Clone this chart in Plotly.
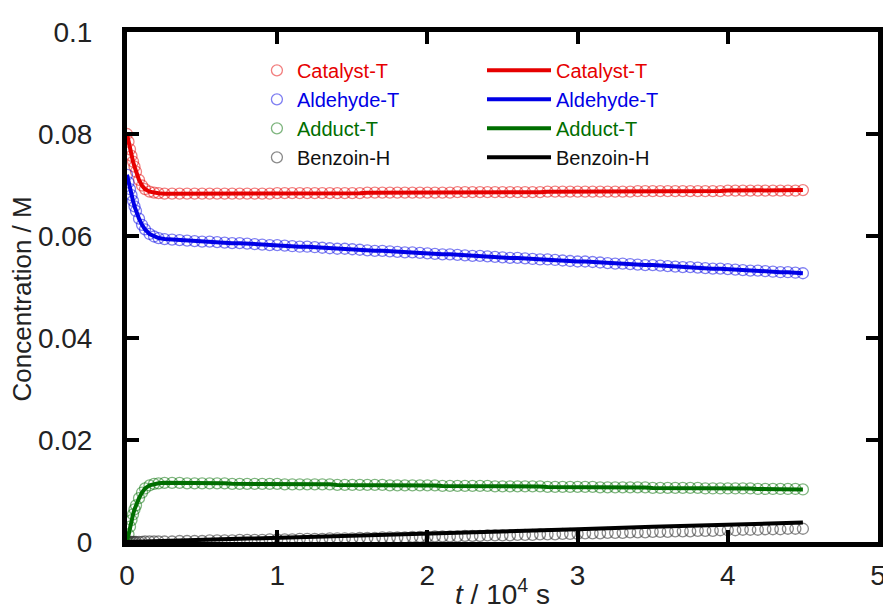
import plotly.graph_objects as go

# ---------------- data (t in 10^4 s, concentrations in M) ----------------
time_1e4s = [
    0.00, 0.01, 0.02, 0.03, 0.04, 0.05, 0.06, 0.08, 0.10, 0.12, 0.15, 0.18, 0.21, 0.25, 0.30, 0.35,
    0.40, 0.45, 0.50, 0.55, 0.60, 0.65, 0.70, 0.75, 0.80, 0.85, 0.90, 0.95,
    1.00, 1.05, 1.10, 1.15, 1.20, 1.25, 1.30, 1.35, 1.40, 1.45, 1.50, 1.55,
    1.60, 1.65, 1.70, 1.75, 1.80, 1.85, 1.90, 1.95, 2.00, 2.05, 2.10, 2.15,
    2.20, 2.25, 2.30, 2.35, 2.40, 2.45, 2.50, 2.55, 2.60, 2.65, 2.70, 2.75,
    2.80, 2.85, 2.90, 2.95, 3.00, 3.05, 3.10, 3.15, 3.20, 3.25, 3.30, 3.35,
    3.40, 3.45, 3.50, 3.55, 3.60, 3.65, 3.70, 3.75, 3.80, 3.85, 3.90, 3.95,
    4.00, 4.05, 4.10, 4.15, 4.20, 4.25, 4.30, 4.35, 4.40, 4.45, 4.50,
]

catalyst_T = [
    0.0800, 0.0785, 0.0770, 0.0757, 0.0746, 0.0736, 0.0726, 0.0710, 0.0699, 0.0692, 0.0687, 0.0685, 0.0684, 0.0683, 0.0683, 0.0683,
    0.0683, 0.0683, 0.0683, 0.0683, 0.0683, 0.0683, 0.0683, 0.0683, 0.0683, 0.0683, 0.0683, 0.0683,
    0.0684, 0.0684, 0.0684, 0.0684, 0.0684, 0.0684, 0.0684, 0.0684, 0.0684, 0.0684, 0.0684, 0.0684,
    0.0685, 0.0685, 0.0685, 0.0685, 0.0685, 0.0685, 0.0685, 0.0685, 0.0685, 0.0685, 0.0685, 0.0685,
    0.0686, 0.0686, 0.0686, 0.0686, 0.0686, 0.0686, 0.0686, 0.0686, 0.0686, 0.0686, 0.0686, 0.0686,
    0.0687, 0.0687, 0.0687, 0.0687, 0.0687, 0.0687, 0.0687, 0.0687, 0.0687, 0.0687, 0.0687, 0.0687,
    0.0688, 0.0688, 0.0688, 0.0688, 0.0688, 0.0688, 0.0688, 0.0688, 0.0688, 0.0688, 0.0688, 0.0688,
    0.0689, 0.0689, 0.0689, 0.0689, 0.0689, 0.0689, 0.0689, 0.0689, 0.0689, 0.0689, 0.0690,
]

aldehyde_T = [
    0.0720, 0.0705, 0.0692, 0.0680, 0.0669, 0.0658, 0.0649, 0.0634, 0.0622, 0.0613, 0.0604, 0.0599, 0.0596, 0.0594, 0.0593, 0.0592,
    0.0591, 0.0590, 0.0589, 0.0589, 0.0588, 0.0587, 0.0586, 0.0586, 0.0585, 0.0584, 0.0583, 0.0582,
    0.0582, 0.0581, 0.0580, 0.0579, 0.0579, 0.0578, 0.0577, 0.0576, 0.0575, 0.0575, 0.0574, 0.0573,
    0.0572, 0.0571, 0.0571, 0.0570, 0.0569, 0.0568, 0.0568, 0.0567, 0.0566, 0.0565, 0.0564, 0.0564,
    0.0563, 0.0562, 0.0561, 0.0561, 0.0560, 0.0559, 0.0558, 0.0557, 0.0557, 0.0556, 0.0555, 0.0554,
    0.0554, 0.0553, 0.0552, 0.0551, 0.0550, 0.0550, 0.0549, 0.0548, 0.0547, 0.0546, 0.0546, 0.0545,
    0.0544, 0.0543, 0.0543, 0.0542, 0.0541, 0.0540, 0.0539, 0.0539, 0.0538, 0.0537, 0.0536, 0.0536,
    0.0535, 0.0534, 0.0533, 0.0532, 0.0532, 0.0531, 0.0530, 0.0529, 0.0529, 0.0528, 0.0527,
]

adduct_T = [
    0.0000, 0.0015, 0.0030, 0.0043, 0.0054, 0.0064, 0.0072, 0.0086, 0.0097, 0.0105, 0.0111, 0.0114, 0.0115, 0.0116, 0.0116, 0.0116,
    0.0115, 0.0115, 0.0115, 0.0115, 0.0115, 0.0115, 0.0114, 0.0114, 0.0114, 0.0114, 0.0114, 0.0114,
    0.0114, 0.0113, 0.0113, 0.0113, 0.0113, 0.0113, 0.0113, 0.0113, 0.0112, 0.0112, 0.0112, 0.0112,
    0.0112, 0.0112, 0.0112, 0.0111, 0.0111, 0.0111, 0.0111, 0.0111, 0.0111, 0.0111, 0.0110, 0.0110,
    0.0110, 0.0110, 0.0110, 0.0110, 0.0110, 0.0109, 0.0109, 0.0109, 0.0109, 0.0109, 0.0109, 0.0109,
    0.0108, 0.0108, 0.0108, 0.0108, 0.0108, 0.0108, 0.0108, 0.0107, 0.0107, 0.0107, 0.0107, 0.0107,
    0.0107, 0.0107, 0.0106, 0.0106, 0.0106, 0.0106, 0.0106, 0.0106, 0.0106, 0.0105, 0.0105, 0.0105,
    0.0105, 0.0105, 0.0105, 0.0105, 0.0104, 0.0104, 0.0104, 0.0104, 0.0104, 0.0104, 0.0103,
]

benzoin_H = [
    0.0000, 0.0000, 0.0000, 0.0000, 0.0000, 0.0000, 0.0000, 0.0000, 0.0000, 0.0001, 0.0001, 0.0001, 0.0001, 0.0001, 0.0001, 0.0002,
    0.0002, 0.0002, 0.0002, 0.0003, 0.0003, 0.0003, 0.0003, 0.0004, 0.0004, 0.0004, 0.0004, 0.0005,
    0.0005, 0.0005, 0.0005, 0.0006, 0.0006, 0.0006, 0.0006, 0.0007, 0.0007, 0.0007, 0.0007, 0.0008,
    0.0008, 0.0008, 0.0009, 0.0009, 0.0009, 0.0009, 0.0010, 0.0010, 0.0010, 0.0011, 0.0011, 0.0011,
    0.0011, 0.0012, 0.0012, 0.0012, 0.0013, 0.0013, 0.0013, 0.0013, 0.0014, 0.0014, 0.0014, 0.0015,
    0.0015, 0.0015, 0.0016, 0.0016, 0.0016, 0.0017, 0.0017, 0.0017, 0.0018, 0.0018, 0.0018, 0.0019,
    0.0019, 0.0019, 0.0020, 0.0020, 0.0020, 0.0021, 0.0021, 0.0021, 0.0022, 0.0022, 0.0022, 0.0023,
    0.0023, 0.0023, 0.0024, 0.0024, 0.0024, 0.0025, 0.0025, 0.0025, 0.0026, 0.0026, 0.0026,
]

# simulated (model) curve for Benzoin-H
benzoin_fit_time = [0.0, 0.5, 1.0, 1.5, 2.0, 2.5, 3.0, 3.5, 4.0, 4.5]
benzoin_fit = [0.0000, 0.0004, 0.0008, 0.0012, 0.0017, 0.0021, 0.0025, 0.0030, 0.0034, 0.0038]

series_names = ["Catalyst-T", "Aldehyde-T", "Adduct-T", "Benzoin-H"]
x_ticks = [0, 1, 2, 3, 4, 5]
y_ticks = [0, 0.02, 0.04, 0.06, 0.08, 0.1]
y_tick_labels = ["0", "0.02", "0.04", "0.06", "0.08", "0.1"]

# ---------------- styles ----------------
line_colors = ["#e60000", "#0000e6", "#006e00", "#000000"]
marker_colors = ["rgba(230,0,0,0.5)", "rgba(0,0,230,0.5)", "rgba(0,110,0,0.5)", "rgba(60,60,60,0.6)"]
text_colors = ["#e60000", "#0000e6", "#006e00", "#111111"]
FONT = "Arial, Liberation Sans, sans-serif"

data_series = [catalyst_T, aldehyde_T, adduct_T, benzoin_H]
fit_x = [time_1e4s, time_1e4s, time_1e4s, benzoin_fit_time]
fit_y = [catalyst_T, aldehyde_T, adduct_T, benzoin_fit]

fig = go.Figure()

for name, ys, mc, tc in zip(series_names, data_series, marker_colors, text_colors):
    fig.add_trace(go.Scatter(
        x=time_1e4s, y=ys, mode="markers",
        name=f'<span style="color:{tc}">{name}</span>',
        marker=dict(symbol="circle-open", size=11, color=mc, line=dict(width=1.3, color=mc)),
        legend="legend",
    ))

for name, xs, ys, lc, tc in zip(series_names, fit_x, fit_y, line_colors, text_colors):
    fig.add_trace(go.Scatter(
        x=xs, y=ys, mode="lines",
        name=f'<span style="color:{tc}">{name}</span>',
        line=dict(color=lc, width=4),
        legend="legend2",
    ))

axis_common = dict(
    showline=True, linewidth=5, linecolor="black", mirror="ticks",
    ticks="inside", ticklen=12, tickwidth=4, tickcolor="black",
    showgrid=False, zeroline=False, automargin=False,
    tickfont=dict(family=FONT, size=28, color="#222222"),
)

# the page body adds an 8 px offset, so the figure is 8 px smaller on each side
fig.update_layout(
    width=883, height=602,
    margin=dict(l=119, r=13, t=24, b=68),
    paper_bgcolor="white", plot_bgcolor="white",
    showlegend=True,
    xaxis=dict(range=[0, 5], tickvals=x_ticks, ticklabelstandoff=4,
               title=dict(text="<i>t</i> / 10<sup>4</sup> s", font=dict(family=FONT, size=28, color="#222222"), standoff=0),
               **axis_common),
    yaxis=dict(range=[0, 0.1], tickvals=y_ticks, ticktext=y_tick_labels, ticklabelstandoff=24,
               **axis_common),
    annotations=[dict(text="Concentration / M", textangle=-90, xref="paper", yref="paper",
                      x=-0.1398, y=0.4755, xanchor="center", yanchor="middle", showarrow=False,
                      font=dict(family=FONT, size=26, color="#222222"))],
    legend=dict(x=0.173, y=0.963, xanchor="left", yanchor="top", bgcolor="rgba(0,0,0,0)",
                font=dict(family=FONT, size=20), itemwidth=30, tracegroupgap=0),
    legend2=dict(x=0.4727, y=0.963, xanchor="left", yanchor="top", bgcolor="rgba(0,0,0,0)",
                 font=dict(family=FONT, size=20), itemwidth=64, tracegroupgap=0),
)

fig.write_html("out.html")
